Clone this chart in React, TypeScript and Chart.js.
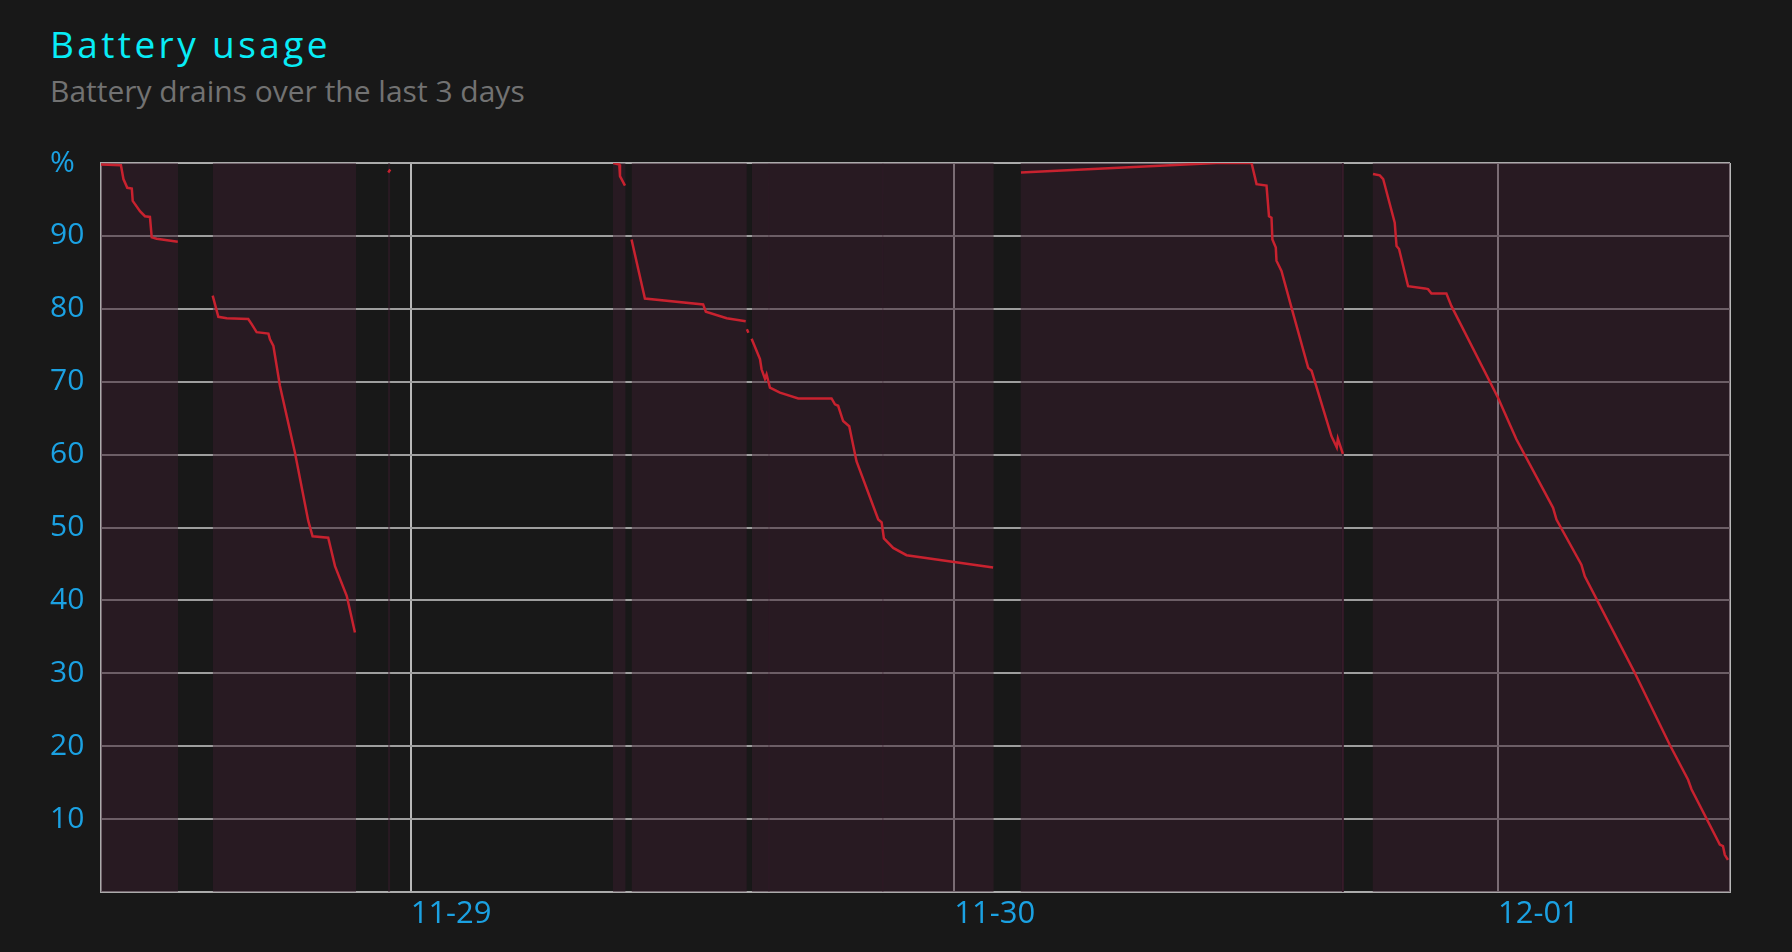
import React, { useEffect, useRef } from 'react';
import { Chart, registerables } from 'chart.js';

Chart.register(...registerables);

// x values are hours since 11-28 00:00
const X_MIN_HOUR = 10.33;
const X_MAX_HOUR = 82.24;
const dayTickHours = [24, 48, 72];
const dayTickLabels = ['11-29', '11-30', '12-01'];

// battery level samples (null = gap between sessions)
const drainHours: (number | null)[] = [
  10.33, 11.21, 11.32, 11.49, 11.69, 11.73, 12.05, 12.27, 12.49, 12.57, 12.79, 13.72, null,
  15.26, 15.51, 15.88, 16.83, 16.98, 17.2, 17.72, 17.79, 17.94, 18.23, 18.89, 19.48, 19.67, 20.36, 20.66, 21.18, 21.54, null,
  23.01, 23.1, null,
  32.94, 33.21, 33.24, 33.46, null,
  33.75, 34.34, 36.91, 37.03, 37.95, 38.79, null,
  38.84, 38.91, null,
  39.05, 39.42, 39.49, 39.64, 39.71, 39.86, 40.3, 41.11, 42.58, 42.73, 42.87, 43.09, 43.36, 43.68, 44.64, 44.79, 44.89, 45.3, 45.89, 49.71, null,
  50.94, 59.57, 61.12, 61.34, 61.78, 61.89, 62.0, 62.04, 62.19, 62.22, 62.44, 62.88, 63.62, 63.77, 64.65, 64.88, 64.93, 65.15, null,
  66.48, 66.78, 66.93, 67.44, 67.52, 67.63, 68.03, 68.77, 68.91, 69.06, 69.72, 69.94, 72.0, 72.81, 74.43, 74.58, 75.68, 75.83, 78.03, 79.58, 80.39, 80.54, 81.79, 81.93, 82.01, 82.15,
];
const drainLevels: (number | null)[] = [
  99.8, 99.7, 97.8, 96.6, 96.5, 94.8, 93.4, 92.7, 92.6, 89.8, 89.6, 89.2, null,
  81.8, 78.9, 78.7, 78.6, 77.9, 76.8, 76.6, 75.8, 74.9, 69.4, 60.3, 50.9, 48.8, 48.6, 44.7, 40.6, 35.6, null,
  98.7, 99.1, null,
  100, 99.8, 98.2, 96.9, null,
  89.5, 81.4, 80.6, 79.6, 78.7, 78.3, null,
  77.2, 76.7, null,
  75.9, 73.1, 71.7, 70.4, 71.0, 69.2, 68.5, 67.7, 67.7, 66.9, 66.7, 64.6, 63.9, 59.1, 51.1, 50.7, 48.5, 47.2, 46.2, 44.5, null,
  98.7, 100, 100, 97.1, 96.9, 92.7, 92.5, 89.5, 88.4, 86.6, 85.2, 80.2, 71.9, 71.5, 62.5, 61.0, 62.2, 60.1, null,
  98.5, 98.3, 97.8, 91.8, 88.6, 88.2, 83.1, 82.8, 82.7, 82.1, 82.1, 80.4, 67.8, 62.1, 52.7, 51.1, 44.9, 43.3, 30.1, 20.2, 15.4, 14.1, 6.5, 6.3, 5.1, 4.4,
];

// periods running on battery (shaded)
const onBatteryStart = [10.33, 15.26, 23.0, 32.93, 33.75, 39.06, 39.8, 44.83, 50.92, 65.11, 66.46];
const onBatteryEnd = [13.73, 21.59, 23.1, 33.49, 38.84, 39.84, 44.87, 49.74, 65.19, 65.19, 82.24];

const FONT = '"Open Sans", "Noto Sans", sans-serif';
const TICK_BLUE = '#1ba1e2';

export default function App() {
  const canvasRef = useRef<HTMLCanvasElement | null>(null);

  useEffect(() => {
    const canvas = canvasRef.current;
    if (!canvas) return;

    const linePoints = drainHours.map((h, i) => ({
      x: h ?? (drainHours[i - 1] as number),
      y: drainLevels[i],
    }));
    const shadePoints: { x: number; y: number | null }[] = [];
    onBatteryStart.forEach((s, i) => {
      shadePoints.push({ x: s, y: 100 }, { x: onBatteryEnd[i], y: 100 }, { x: onBatteryEnd[i], y: null });
    });

    const chart = new Chart(canvas, {
      type: 'line',
      data: {
        datasets: [
          {
            data: linePoints as any,
            borderColor: '#c8222f',
            borderWidth: 2.5,
            pointRadius: 0,
            tension: 0,
            spanGaps: false,
            fill: false,
            order: 1,
          },
          {
            data: shadePoints as any,
            borderColor: 'rgba(0,0,0,0)',
            borderWidth: 0,
            backgroundColor: 'rgba(57,28,45,0.49)',
            pointRadius: 0,
            spanGaps: false,
            fill: 'origin',
            order: 2,
          },
        ],
      },
      options: {
        animation: false,
        responsive: false,
        layout: { padding: { left: 50, right: 62, top: 53, bottom: 0 } },
        plugins: {
          legend: { display: false },
          tooltip: { enabled: false },
          title: { display: false },
        },
        scales: {
          x: {
            type: 'linear',
            min: X_MIN_HOUR,
            max: X_MAX_HOUR,
            afterBuildTicks: (scale: any) => {
              scale.ticks = [X_MIN_HOUR, ...dayTickHours, X_MAX_HOUR].map((v) => ({ value: v }));
            },
            afterFit: (scale: any) => {
              scale.height = 60;
            },
            ticks: {
              align: 'start',
              padding: 4,
              autoSkip: false,
              maxRotation: 0,
              color: TICK_BLUE,
              font: { family: FONT, size: 31 },
              callback: (v: any) => {
                const i = dayTickHours.indexOf(Number(v));
                return i >= 0 ? dayTickLabels[i] : '';
              },
            },
            grid: { color: '#b8b8b8', lineWidth: 2, drawTicks: false },
            border: { display: true, color: '#ababab', width: 2 },
          },
          y: {
            min: 0,
            max: 100,
            afterFit: (scale: any) => {
              scale.width = 51;
            },
            ticks: {
              stepSize: 10,
              crossAlign: 'far',
              padding: 0,
              color: TICK_BLUE,
              font: { family: FONT, size: 30 },
              callback: (v: any) => (v === 100 ? '%' : v === 0 ? '' : String(v)),
            },
            grid: {
              color: (ctx: any) => (ctx.tick && (ctx.tick.value === 100 || ctx.tick.value === 0) ? '#ababab' : '#9e9e9e'),
              lineWidth: 2,
              drawTicks: false,
            },
            border: { display: true, color: '#ababab', width: 2 },
          },
        },
      } as any,
    });

    return () => chart.destroy();
  }, []);

  return (
    <div style={{ position: 'fixed', inset: 0, background: '#181818', overflow: 'hidden' }}>
      <div
        style={{
          position: 'absolute',
          left: 50,
          top: 25,
          fontFamily: FONT,
          fontSize: 37,
          lineHeight: '37px',
          letterSpacing: '3.4px',
          color: '#08ecf6',
          whiteSpace: 'nowrap',
        }}
      >
        Battery usage
      </div>
      <div
        style={{
          position: 'absolute',
          left: 50,
          top: 76,
          fontFamily: FONT,
          fontSize: 30,
          lineHeight: '30px',
          color: '#727272',
          whiteSpace: 'nowrap',
        }}
      >
        Battery drains over the last 3 days
      </div>
      <canvas
        ref={canvasRef}
        width={1792}
        height={842}
        style={{ position: 'absolute', left: 0, top: 110, width: 1792, height: 842, display: 'block' }}
      />
    </div>
  );
}
